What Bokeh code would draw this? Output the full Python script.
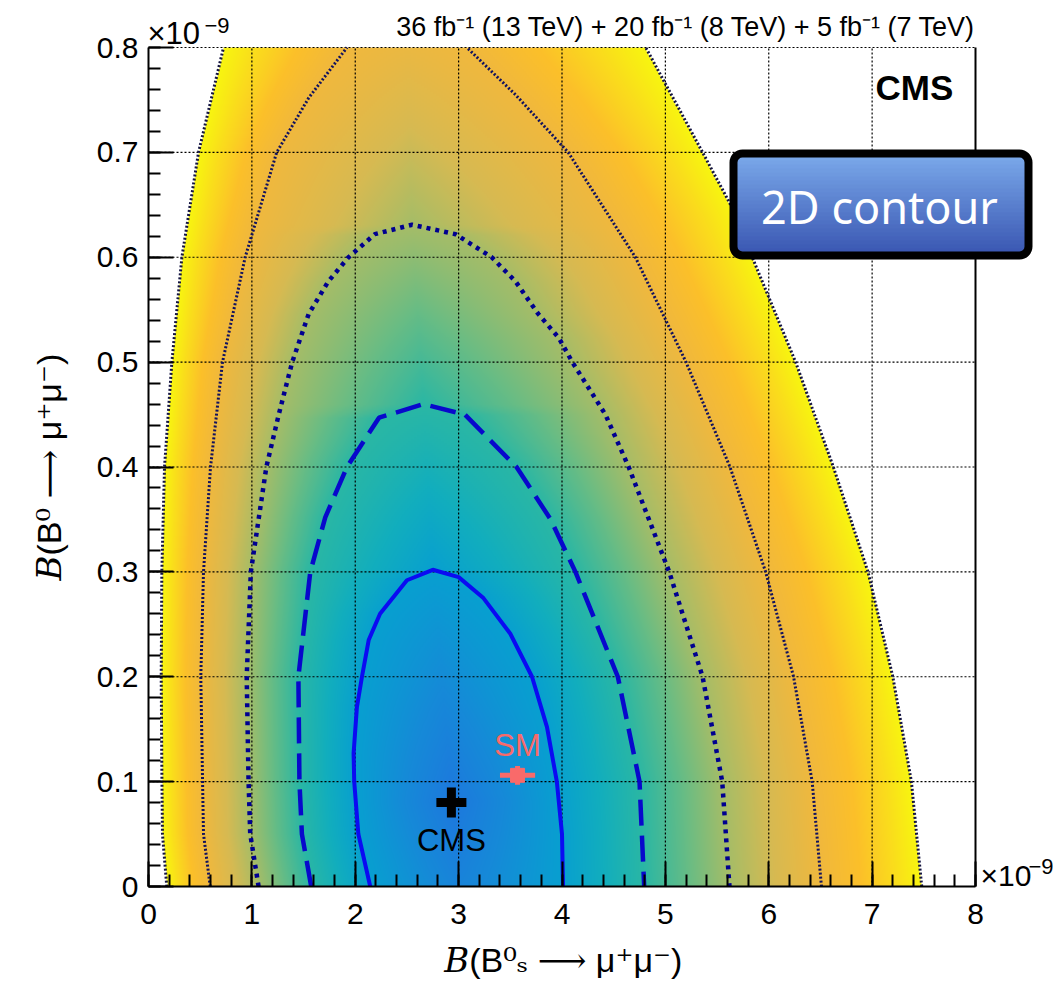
import numpy as np
from bokeh.plotting import figure
from bokeh.models import (FixedTicker, SingleIntervalTicker, Label, BoxAnnotation, Range1d)
from bokeh.embed import file_html
from bokeh.resources import INLINE

# ---------------- data ----------------
# contour branches: y ascending, x of the left / right branch (units of 1e-9)
S1_LEFT_Y = [0.0, 0.05, 0.1, 0.127, 0.171, 0.2, 0.235, 0.26, 0.292, 0.302]
S1_LEFT_X = [2.145, 2.03, 1.99, 1.984, 2.016, 2.065, 2.13, 2.24, 2.5, 2.75]
S1_RIGHT_Y = [0.0, 0.05, 0.1, 0.152, 0.2, 0.241, 0.275, 0.295, 0.302]
S1_RIGHT_X = [4.01, 4.0, 3.95, 3.855, 3.71, 3.5, 3.24, 3.0, 2.75]

S2_LEFT_Y = [0.0, 0.05, 0.1, 0.2, 0.3, 0.352, 0.4, 0.447, 0.46]
S2_LEFT_X = [1.574, 1.484, 1.46, 1.45, 1.565, 1.71, 1.92, 2.23, 2.66]
S2_RIGHT_Y = [0.0, 0.1, 0.2, 0.3, 0.35, 0.4, 0.45, 0.46]
S2_RIGHT_X = [4.795, 4.75, 4.54, 4.13, 3.89, 3.56, 3.06, 2.66]

S3_LEFT_Y = [0.0, 0.05, 0.1, 0.2, 0.3, 0.4, 0.45, 0.5, 0.546, 0.577, 0.6, 0.622, 0.631]
S3_LEFT_X = [1.065, 0.984, 0.968, 0.95, 0.99, 1.14, 1.26, 1.39, 1.55, 1.74, 1.935, 2.19, 2.55]
S3_RIGHT_Y = [0.0, 0.1, 0.2, 0.3, 0.4, 0.45, 0.5, 0.523, 0.546, 0.577, 0.6, 0.622, 0.631]
S3_RIGHT_X = [5.62, 5.55, 5.36, 5.037, 4.645, 4.42, 4.1, 3.97, 3.77, 3.55, 3.32, 2.97, 2.55]

S4_LEFT_Y = [0.0, 0.05, 0.1, 0.2, 0.3, 0.4, 0.5, 0.6, 0.7, 0.752, 0.8]
S4_LEFT_X = [0.597, 0.532, 0.523, 0.506, 0.532, 0.60, 0.716, 0.935, 1.24, 1.55, 1.92]
S4_RIGHT_Y = [0.0, 0.1, 0.2, 0.3, 0.4, 0.5, 0.6, 0.7, 0.755, 0.8]
S4_RIGHT_X = [6.51, 6.42, 6.24, 5.97, 5.625, 5.2, 4.71, 4.06, 3.55, 3.08]

S5_LEFT_Y = [0.0, 0.05, 0.1, 0.2, 0.3, 0.4, 0.5, 0.6, 0.7, 0.8]
S5_LEFT_X = [0.177, 0.135, 0.13, 0.123, 0.129, 0.155, 0.226, 0.323, 0.484, 0.726]
S5_RIGHT_Y = [0.0, 0.1, 0.2, 0.3, 0.4, 0.5, 0.6, 0.641, 0.7, 0.8]
S5_RIGHT_X = [7.48, 7.38, 7.2, 6.96, 6.625, 6.26, 5.84, 5.68, 5.36, 4.81]

# valley of the surface (row minimum): y, significance, x
MIN_Y = [0.0, 0.08, 0.302, 0.46, 0.631, 0.82]
MIN_SIG = [0.33, 0.0, 1.0, 2.0, 3.0, 4.0]
MIN_X = [3.0, 2.94, 2.75, 2.66, 2.55, 2.5]

# best fit and SM prediction
CMS_X = [2.93]
CMS_Y = [0.080]
SM_X = [3.57]
SM_Y = [0.106]
SM_XERR = [0.17]
SM_YERR = [0.009]

X_TICKS = [0, 1, 2, 3, 4, 5, 6, 7, 8]
Y_TICKS = [0, 0.1, 0.2, 0.3, 0.4, 0.5, 0.6, 0.7, 0.8]
Y_TICK_LABELS = ["0", "0.1", "0.2", "0.3", "0.4", "0.5", "0.6", "0.7", "0.8"]
X_MAX, Y_MAX = 8.0, 0.8

X_TITLE = "\U0001D435(B\u2070\u209b \u27f6 \u03bc\u207a\u03bc\u207b)"
Y_TITLE = "\U0001D435(B\u2070 \u27f6 \u03bc\u207a\u03bc\u207b)"

# colour scale: significance -> colour
PAL_SIG = [0.0, 0.5, 1.0, 1.5, 2.0, 2.5, 3.0, 3.5, 4.0, 4.4, 4.75, 5.0]
PAL_R = [30, 22, 8, 18, 42, 100, 165, 215, 240, 252, 250, 248]
PAL_G = [120, 138, 160, 174, 183, 188, 189, 186, 184, 192, 222, 246]
PAL_B = [222, 216, 208, 190, 165, 135, 104, 82, 62, 42, 28, 16]

# ---------------- figure ----------------
W, H = 1053, 998
FL, FR, FT, FB = 148, 975, 47, 886      # plot-area edges in pixels
UX = (FR - FL) / X_MAX                   # px per x unit
UY = (FB - FT) / Y_MAX                   # px per y unit


def dx(px):
    return (px - FL) / UX


def dy(py):
    return (FB - py) / UY


# the frame runs to the right and top edges of the canvas so that the
# texts and the badge outside the axes box are not clipped
p = figure(width=W, height=H,
           x_range=Range1d(0, dx(W)), y_range=Range1d(0, dy(0)),
           output_backend="svg", toolbar_location=None,
           min_border_left=FL, min_border_right=0,
           min_border_top=0, min_border_bottom=H - FB)
p.outline_line_color = None
p.background_fill_color = "white"
p.border_fill_color = "white"
p.xgrid.visible = False
p.ygrid.visible = False

# ---------------- heat map from the contour data ----------------
contours = [
    (5, S5_LEFT_Y, S5_LEFT_X, S5_RIGHT_Y, S5_RIGHT_X),
    (4, S4_LEFT_Y, S4_LEFT_X, S4_RIGHT_Y, S4_RIGHT_X),
    (3, S3_LEFT_Y, S3_LEFT_X, S3_RIGHT_Y, S3_RIGHT_X),
    (2, S2_LEFT_Y, S2_LEFT_X, S2_RIGHT_Y, S2_RIGHT_X),
    (1, S1_LEFT_Y, S1_LEFT_X, S1_RIGHT_Y, S1_RIGHT_X),
]
NX, NY = 827, 420
gx = np.linspace(0, X_MAX, NX)
gy = np.linspace(0, Y_MAX, NY)
sig = np.full((NY, NX), np.nan)
for j, yv in enumerate(gy):
    lefts, rights = [], []
    for lev, ly, lx, ry, rx in contours:
        if yv <= ly[-1] and yv <= ry[-1]:
            lefts.append((float(np.interp(yv, ly, lx)), lev))
            rights.append((float(np.interp(yv, ry, rx)), lev))
    smin = float(np.interp(yv, MIN_Y, MIN_SIG))
    xmin = float(np.interp(yv, MIN_Y, MIN_X))
    if lefts:
        lo, hi = lefts[-1][0], rights[-1][0]
        xmin = min(max(xmin, lo + 1e-4), hi - 1e-4)
    xp = [a for a, _ in lefts] + [xmin] + [a for a, _ in rights[::-1]]
    fp = [b for _, b in lefts] + [smin] + [b for _, b in rights[::-1]]
    xp = np.maximum.accumulate(np.array(xp) + np.arange(len(xp)) * 1e-6)
    sig[j] = np.interp(gx, xp, fp, left=np.nan, right=np.nan)

img = np.zeros((NY, NX), dtype=np.uint32)
view = img.view(dtype=np.uint8).reshape((NY, NX, 4))
valid = ~np.isnan(sig)
s = np.where(valid, sig, 0)
view[..., 0] = np.interp(s, PAL_SIG, PAL_R).astype(np.uint8)
view[..., 1] = np.interp(s, PAL_SIG, PAL_G).astype(np.uint8)
view[..., 2] = np.interp(s, PAL_SIG, PAL_B).astype(np.uint8)
view[..., 3] = np.where(valid, 255, 0).astype(np.uint8)
p.image_rgba(image=[img], x=0, y=0, dw=X_MAX, dh=Y_MAX, level="image")

# ---------------- dotted grid (bounded to the axes box) ----------------
gxs = X_TICKS[1:-1]
p.segment(x0=gxs, y0=[0] * len(gxs), x1=gxs, y1=[Y_MAX] * len(gxs),
          line_color="black", line_width=1.2, line_dash="2 2")
gys = Y_TICKS[1:]
p.segment(x0=[0] * len(gys), y0=gys, x1=[X_MAX] * len(gys), y1=gys,
          line_color="black", line_width=1.2, line_dash="2 2")
# solid right edge of the box
p.segment(x0=[X_MAX], y0=[0], x1=[X_MAX], y1=[Y_MAX], line_color="black", line_width=2)

# ---------------- axes ----------------
NB = "\u00a0"
xa = p.xaxis[0]
xa.ticker = SingleIntervalTicker(interval=1, num_minor_ticks=5)
xa.bounds = (0, X_MAX)
ya = p.yaxis[0]
ya.ticker = FixedTicker(ticks=Y_TICKS, minor_ticks=[i * 0.02 for i in range(41)])
ya.bounds = (0, Y_MAX)
ya.major_label_overrides = dict(zip(Y_TICKS, Y_TICK_LABELS))
for ax in (xa, ya):
    ax.axis_line_width = 2
    ax.major_tick_in = 25
    ax.major_tick_out = 0
    ax.minor_tick_in = 12
    ax.minor_tick_out = 0
    ax.major_tick_line_width = 2
    ax.minor_tick_line_width = 2
    ax.major_label_text_font = "Liberation Sans"
    ax.major_label_text_font_size = "30px"
    ax.major_label_text_color = "black"
    ax.axis_label_text_font = "Liberation Sans, DejaVu Serif"
    ax.axis_label_text_font_size = "34px"
    ax.axis_label_text_font_style = "normal"
    ax.axis_label_text_color = "black"
xa.major_label_standoff = 17
ya.major_label_standoff = 10
# non-breaking spaces re-centre the titles on the axes box
xa.axis_label = X_TITLE + NB * 8
ya.axis_label = Y_TITLE + NB * 5
xa.axis_label_standoff = 14
ya.axis_label_standoff = 26

# ---------------- contour lines ----------------
def closed(lx, ly, rx, ry):
    xs = list(lx) + list(rx[::-1][1:])
    ys = list(ly) + list(ry[::-1][1:])
    return xs, ys

x1, y1 = closed(S1_LEFT_X, S1_LEFT_Y, S1_RIGHT_X, S1_RIGHT_Y)
x2, y2 = closed(S2_LEFT_X, S2_LEFT_Y, S2_RIGHT_X, S2_RIGHT_Y)
x3, y3 = closed(S3_LEFT_X, S3_LEFT_Y, S3_RIGHT_X, S3_RIGHT_Y)
p.line(x1, y1, line_color="#0b0bf2", line_width=4)
p.line(x2, y2, line_color="#0808cc", line_width=4.5, line_dash="26 10")
p.line(x3, y3, line_color="#000090", line_width=4.5, line_dash="4 5")
for lx, ly in ((S4_LEFT_X, S4_LEFT_Y), (S4_RIGHT_X, S4_RIGHT_Y)):
    p.line(lx, ly, line_color="#12125e", line_width=3, line_dash="2 2")
for lx, ly in ((S5_LEFT_X, S5_LEFT_Y), (S5_RIGHT_X, S5_RIGHT_Y)):
    p.line(lx, ly, line_color="#141440", line_width=3, line_dash="2 2")

# ---------------- markers ----------------
SALMON = "#f96a6a"
p.segment(x0=[SM_X[0] - SM_XERR[0]], y0=SM_Y, x1=[SM_X[0] + SM_XERR[0]], y1=SM_Y,
          line_color=SALMON, line_width=5)
p.segment(x0=SM_X, y0=[SM_Y[0] - SM_YERR[0]], x1=SM_X, y1=[SM_Y[0] + SM_YERR[0]],
          line_color=SALMON, line_width=5)
p.scatter(SM_X, SM_Y, marker="square", size=14, fill_color=SALMON, line_color=SALMON)
p.scatter(CMS_X, CMS_Y, marker="cross", size=30, line_width=9, line_color="black")


def txt(x, y, text, size, align="left", color="black", style="normal",
        font="Liberation Sans", angle=0):
    p.add_layout(Label(x=x, y=y, text=text, text_align=align, text_baseline="middle",
                       text_font=font, text_font_size=size, text_color=color,
                       text_font_style=style, angle=angle, angle_units="deg"))


txt(SM_X[0], dy(745), "SM", "31px", align="center", color=SALMON)
txt(CMS_X[0], dy(840), "CMS", "31px", align="center")

# ---------------- texts ----------------
txt(dx(875), dy(87), "CMS", "35px", style="bold")
txt(dx(975), dy(26),
    "36 fb\u207b\u00b9 (13 TeV) + 20 fb\u207b\u00b9 (8 TeV) + 5 fb\u207b\u00b9 (7 TeV)",
    "27px", align="right")
# x10^-9 exponents
txt(dx(147), dy(33), "\u00d710", "31px")
txt(dx(204), dy(25), "\u22129", "22px")
txt(dx(980), dy(875), "\u00d710", "30px")
txt(dx(1028), dy(866), "\u22129", "22px")

# ---------------- "2D contour" badge ----------------
BX0, BX1, BY0, BY1 = 733, 1028, 153, 255
top_c = np.array([122, 168, 234])
bot_c = np.array([59, 88, 179])
NS = 24
for k in range(NS):
    t = (k + 0.5) / NS
    c = (1 - t) * top_c + t * bot_c
    ya0 = BY0 + 3 + (BY1 - BY0 - 6) * k / NS
    ya1 = BY0 + 3 + (BY1 - BY0 - 6) * (k + 1) / NS
    p.add_layout(BoxAnnotation(left=dx(BX0 + 3), right=dx(BX1 - 3), top=dy(ya0),
                               bottom=dy(ya1 + 0.6), fill_alpha=1.0, line_color=None,
                               fill_color="#%02x%02x%02x" % tuple(int(v) for v in c)))
p.add_layout(BoxAnnotation(left=dx(BX0), right=dx(BX1), top=dy(BY0), bottom=dy(BY1),
                           fill_alpha=0.0, line_color="black", line_alpha=1.0,
                           line_width=8, border_radius=9))
txt(dx(879), dy(206), "2D contour", "45px", align="center", color="white", font="Noto Sans")

open("out.html", "w").write(file_html(p, INLINE))
